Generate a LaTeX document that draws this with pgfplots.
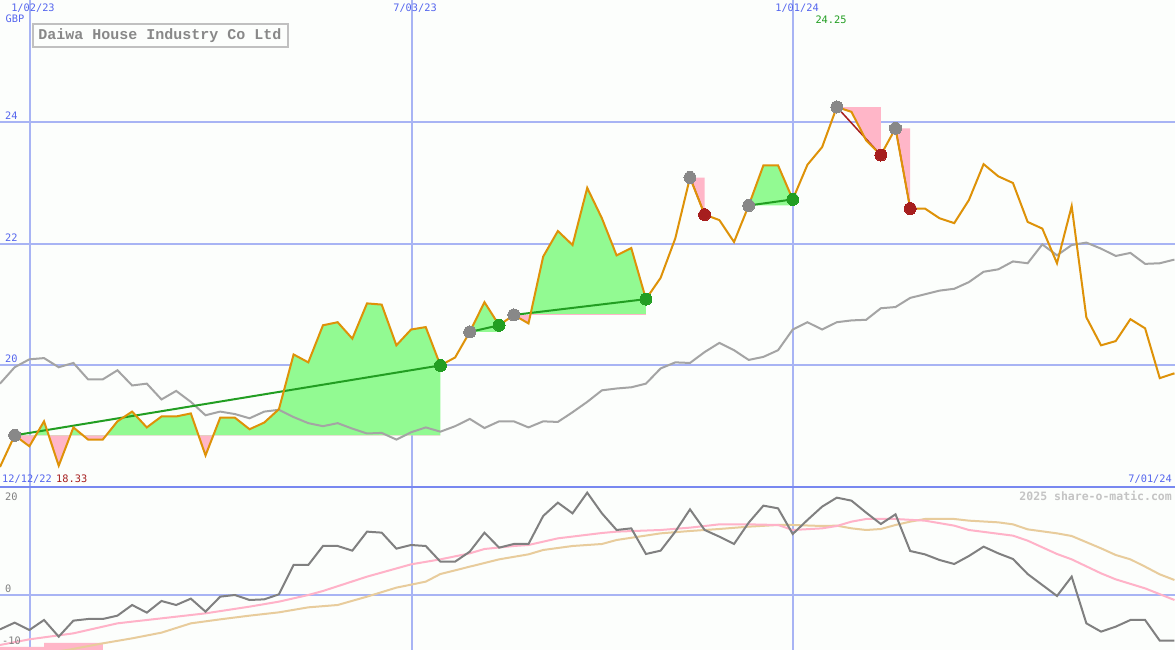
\documentclass[border=0pt]{standalone}
\usepackage{fontspec}
\usepackage{pgfplots}
\pgfplotsset{compat=1.18}
\usepackage{pgfplotstable}
\newfontfamily\lab{DejaVu Sans Mono}
\newfontfamily\ttl{Liberation Mono}

\definecolor{bg}{RGB}{252,254,252}
\definecolor{gridc}{RGB}{168,180,244}
\definecolor{sepc}{RGB}{120,136,240}
\definecolor{labc}{RGB}{85,102,238}
\definecolor{pricec}{RGB}{222,146,8}
\definecolor{mac}{RGB}{164,164,164}
\definecolor{upf}{RGB}{146,250,146}
\definecolor{dnf}{RGB}{255,182,200}
\definecolor{winc}{RGB}{34,158,34}
\definecolor{lossc}{RGB}{166,30,30}
\definecolor{dotg}{RGB}{136,136,136}
\definecolor{oscc}{RGB}{128,128,128}
\definecolor{sigc}{RGB}{255,178,200}
\definecolor{slowc}{RGB}{232,204,156}

% weekly closes, week 0 = 19/12/22
\pgfplotstableread{
k v
0 18.33
1 18.85
2 18.67
3 19.08
4 18.35
5 18.98
6 18.78
7 18.78
8 19.08
9 19.24
10 18.98
11 19.16
12 19.16
13 19.21
14 18.52
15 19.14
16 19.14
17 18.95
18 19.06
19 19.28
20 20.18
21 20.05
22 20.66
23 20.71
24 20.44
25 21.02
26 21.00
27 20.33
28 20.59
29 20.63
30 20.00
31 20.13
32 20.55
33 21.04
34 20.66
35 20.83
36 20.69
37 21.79
38 22.21
39 21.98
40 22.92
41 22.42
42 21.81
43 21.93
44 21.09
45 21.44
46 22.09
47 23.09
48 22.48
49 22.39
50 22.03
51 22.63
52 23.29
53 23.29
54 22.73
55 23.30
56 23.59
57 24.25
58 24.17
59 23.70
60 23.46
61 23.90
62 22.58
63 22.58
64 22.42
65 22.34
66 22.72
67 23.31
68 23.11
69 23.00
70 22.36
71 22.25
72 21.68
73 22.62
74 20.79
75 20.33
76 20.40
77 20.76
78 20.61
79 19.79
80 19.87
}\price

\pgfplotstableread{
k v
0 19.70
1 19.97
2 20.10
3 20.12
4 19.97
5 20.04
6 19.77
7 19.77
8 19.92
9 19.67
10 19.70
11 19.44
12 19.58
13 19.40
14 19.18
15 19.24
16 19.20
17 19.13
18 19.24
19 19.27
20 19.15
21 19.05
22 19.00
23 19.05
24 18.96
25 18.88
26 18.89
27 18.78
28 18.90
29 18.98
30 18.91
31 19.00
32 19.12
33 18.97
34 19.08
35 19.08
36 18.98
37 19.08
38 19.07
39 19.23
40 19.40
41 19.59
42 19.62
43 19.64
44 19.70
45 19.95
46 20.05
47 20.04
48 20.22
49 20.37
50 20.25
51 20.09
52 20.14
53 20.25
54 20.59
55 20.71
56 20.59
57 20.71
58 20.74
59 20.75
60 20.94
61 20.96
62 21.11
63 21.17
64 21.23
65 21.26
66 21.37
67 21.54
68 21.58
69 21.71
70 21.68
71 21.99
72 21.81
73 21.98
74 22.02
75 21.92
76 21.80
77 21.85
78 21.67
79 21.68
80 21.74
}\mavg

\pgfplotstableread{
k v
0 -6.87
1 -5.53
2 -7.0
3 -5.0
4 -8.33
5 -5.13
6 -4.8
7 -4.8
8 -4.13
9 -2.0
10 -3.53
11 -1.2
12 -2.0
13 -0.73
14 -3.33
15 -0.33
16 0
17 -1.0
18 -0.87
19 0.13
20 6.0
21 6.0
22 9.8
23 9.8
24 8.87
25 12.67
26 12.47
27 9.27
28 10.0
29 9.8
30 6.67
31 6.67
32 8.67
33 12.47
34 9.47
35 10.2
36 10.2
37 15.8
38 18.47
39 16.33
40 20.47
41 16.33
42 13.0
43 13.33
44 8.2
45 8.87
46 12.67
47 17.13
48 13.0
49 11.67
50 10.2
51 14.47
52 17.87
53 17.33
54 12.2
55 15.0
56 17.67
57 19.47
58 18.87
59 16.47
60 14.2
61 16.13
62 8.8
63 8.13
64 7.0
65 6.2
66 7.8
67 9.67
68 8.33
69 7.2
70 4.2
71 2.0
72 -0.2
73 3.67
74 -5.67
75 -7.33
76 -6.33
77 -5.0
78 -5.0
79 -9.13
80 -9.13
}\osc

\pgfplotstableread{
k v
0 -10
2 -8.87
5 -7.67
8 -5.67
9 -5.33
11 -4.67
14 -3.67
17 -2.33
19 -1.33
21 0
22 0.8
25 3.67
28 6.13
30 7.13
32 8.33
33 9.2
35 9.8
36 10
38 11.33
41 12.4
42 12.67
45 13
47 13.47
49 14.13
51 14.13
53 14
54 13
56 13.33
57 13.8
58 14.67
59 15.2
61 15.2
63 14.87
65 13.87
66 13.0
69 11.87
70 10.87
72 8.2
73 7.13
75 4.33
76 3.13
78 1.33
80 -1.0
}\sig

\pgfplotstableread{
k v
3 -11.6
4.6 -11
7 -9.67
9 -8.67
11 -7.53
13 -5.67
15 -4.87
17 -4.13
19 -3.47
21 -2.47
23 -2.0
25 -0.33
27 1.47
29 2.67
30 4.2
32 5.67
34 7.13
36 8.13
37 9
39 9.8
41 10.2
42 11
45 12.33
47 12.8
49 13.2
51 13.67
53 14
54 14
56 13.8
57 13.87
58 13.33
59 13
60 13.2
61 14
62 14.67
63 15.2
65 15.2
66 14.87
68 14.53
69 14.13
70 13.13
72 12.33
73 11.8
75 9.33
76 8.0
77 7.13
78 5.67
79 4.13
80 3.0
}\slow

% trade 1 (entry 18.85) and trade 3 (entry 20.83): price path closed on the entry level
\pgfplotstableread{
k v
1 18.85
2 18.67
3 19.08
4 18.35
5 18.98
6 18.78
7 18.78
8 19.08
9 19.24
10 18.98
11 19.16
12 19.16
13 19.21
14 18.52
15 19.14
16 19.14
17 18.95
18 19.06
19 19.28
20 20.18
21 20.05
22 20.66
23 20.71
24 20.44
25 21.02
26 21.00
27 20.33
28 20.59
29 20.63
30 20.00
30 18.85
}\tradeA

\pgfplotstableread{
k v
35 20.83
36 20.69
37 21.79
38 22.21
39 21.98
40 22.92
41 22.42
42 21.81
43 21.93
44 21.09
44 20.83
}\tradeC

% upper panel: 60.799pt per GBP, bottom (18) at 163pt; lower panel 5pt per unit, 0 at 55pt
\pgfplotsset{panel/.style={
  scale only axis, width=1175pt, xmin=0, xmax=80.04,
  axis line style={draw=none}, xtick=\empty, ytick=\empty}}

\begin{document}
\begin{tikzpicture}
\useasboundingbox (0,0) rectangle (1175pt,650pt);
\fill[bg] (0,0) rectangle (1175pt,650pt);

% date and price grid, on whole pixels (under the fills)
\begin{scope}[gridc, line width=2pt]
  \draw (30pt,0) -- (30pt,650pt);
  \draw (412pt,0) -- (412pt,650pt);
  \draw (793pt,0) -- (793pt,650pt);
  \draw (0,285pt) -- (1175pt,285pt);
  \draw (0,406pt) -- (1175pt,406pt);
  \draw (0,528pt) -- (1175pt,528pt);
  \draw (0,55pt) -- (1175pt,55pt);
\end{scope}

% fills split at the entry level: each part in its own clipped axis
\begin{axis}[panel, at={(0,214.679pt)}, anchor=south west, height=435.321pt, ymin=18.85, ymax=26.01]
  \addplot[draw=none, fill=upf] table[x=k, y=v] {\tradeA};
\end{axis}
\begin{axis}[panel, at={(0,163pt)}, anchor=south west, height=51.679pt, ymin=18, ymax=18.85]
  \addplot[draw=none, fill=dnf] table[x=k, y=v] {\tradeA};
\end{axis}
\begin{axis}[panel, at={(0,335.061pt)}, anchor=south west, height=314.939pt, ymin=20.83, ymax=26.01]
  \addplot[draw=none, fill=upf] table[x=k, y=v] {\tradeC};
\end{axis}
\begin{axis}[panel, at={(0,163pt)}, anchor=south west, height=172.061pt, ymin=18, ymax=20.83]
  \addplot[draw=none, fill=dnf] table[x=k, y=v] {\tradeC};
\end{axis}

\begin{axis}[panel, at={(0,163pt)}, anchor=south west, height=487pt,
  ymin=18, ymax=26.01]
  % single-colour trades
  \addplot[draw=none, fill=upf] coordinates {(32,20.55) (33,21.04) (34,20.66) (34,20.55)};
  \addplot[draw=none, fill=upf] coordinates {(51,22.63) (52,23.29) (53,23.29) (54,22.73) (54,22.63)};
  \addplot[draw=none, fill=dnf] coordinates {(47,23.09) (48,22.48) (48,23.09)};
  \addplot[draw=none, fill=dnf] coordinates {(57,24.25) (58,24.17) (59,23.70) (60,23.46) (60,24.25)};
  \addplot[draw=none, fill=dnf] coordinates {(61,23.90) (62,22.58) (62,23.90)};

  \addplot[mac, line width=2pt] table[x=k, y=v] {\mavg};

  % entry-exit lines
  \addplot[winc, line width=2pt] coordinates {(1,18.85) (30,20.00)};
  \addplot[winc, line width=2pt] coordinates {(32,20.55) (34,20.66)};
  \addplot[winc, line width=2pt] coordinates {(35,20.83) (44,21.09)};
  \addplot[winc, line width=2pt] coordinates {(51,22.63) (54,22.73)};
  \addplot[lossc, line width=1.5pt] coordinates {(47,23.09) (48,22.48)};
  \addplot[lossc, line width=1.5pt] coordinates {(57,24.25) (60,23.46)};
  \addplot[lossc, line width=1.5pt] coordinates {(61,23.90) (62,22.58)};

  \addplot[only marks, mark=*, mark size=6pt, mark options={draw=dotg, fill=dotg, line width=0pt}]
    coordinates {(1,18.85) (32,20.55) (35,20.83) (47,23.09) (51,22.63) (57,24.25) (61,23.90)};
  \addplot[only marks, mark=*, mark size=6pt, mark options={draw=winc, fill=winc, line width=0pt}]
    coordinates {(30,20.00) (34,20.66) (44,21.09) (54,22.73)};
  \addplot[only marks, mark=*, mark size=6pt, mark options={draw=lossc, fill=lossc, line width=0pt}]
    coordinates {(48,22.48) (60,23.46) (62,22.58)};

  \addplot[pricec, line width=2pt] table[x=k, y=v] {\price};
\end{axis}

\begin{axis}[panel, at={(0,0)}, anchor=south west, height=163pt,
  ymin=-11, ymax=21.6]
  \addplot[const plot, draw=none, fill=dnf] coordinates {(0,-11) (0,-10.4) (3,-9.6) (7,-9.6) (7,-11)};
  \addplot[slowc, line width=2pt] table[x=k, y=v] {\slow};
  \addplot[sigc, line width=2pt] table[x=k, y=v] {\sig};
  \addplot[oscc, line width=2pt] table[x=k, y=v] {\osc};
\end{axis}

\draw[sepc, line width=2pt] (0,163pt) -- (1175pt,163pt);

% title box
\draw[fill=bg, draw={rgb,255:red,192;green,192;blue,192}, line width=2pt] (33pt,626pt) rectangle (288pt,603pt);
\node[text={rgb,255:red,136;green,136;blue,136}, font=\ttl\bfseries\fontsize{15}{17}\selectfont] at (160pt,614pt) {Daiwa House Industry Co Ltd};

\begin{scope}[every node/.style={font=\lab\fontsize{10.3}{12}\selectfont, inner sep=0pt}]
  \node[text=labc] at (33pt,642pt) {1/02/23};
  \node[text=labc] at (415pt,642pt) {7/03/23};
  \node[text=labc] at (797pt,642pt) {1/01/24};
  \node[text=labc] at (15pt,631pt) {GBP};
  \node[text=winc] at (831pt,630pt) {24.25};
  \node[text=labc, anchor=west] at (5pt,534pt) {24};
  \node[text=labc, anchor=west] at (5pt,412pt) {22};
  \node[text=labc, anchor=west] at (5pt,291pt) {20};
  \node[text=labc, anchor=west] at (2pt,171pt) {12/12/22};
  \node[text=lossc, anchor=west] at (56pt,171pt) {18.33};
  \node[text=labc, anchor=east] at (1172pt,171pt) {7/01/24};
  \node[text=oscc, anchor=west] at (5pt,153pt) {20};
  \node[text=oscc, anchor=west] at (5pt,61pt) {0};
  \node[text=oscc, anchor=west] at (2pt,9pt) {-10};
  \node[text={rgb,255:red,196;green,196;blue,196}, anchor=east, font=\lab\bfseries\fontsize{11.5}{13}\selectfont] at (1172pt,154pt) {2025 share-o-matic.com};
\end{scope}
\end{tikzpicture}
\end{document}
